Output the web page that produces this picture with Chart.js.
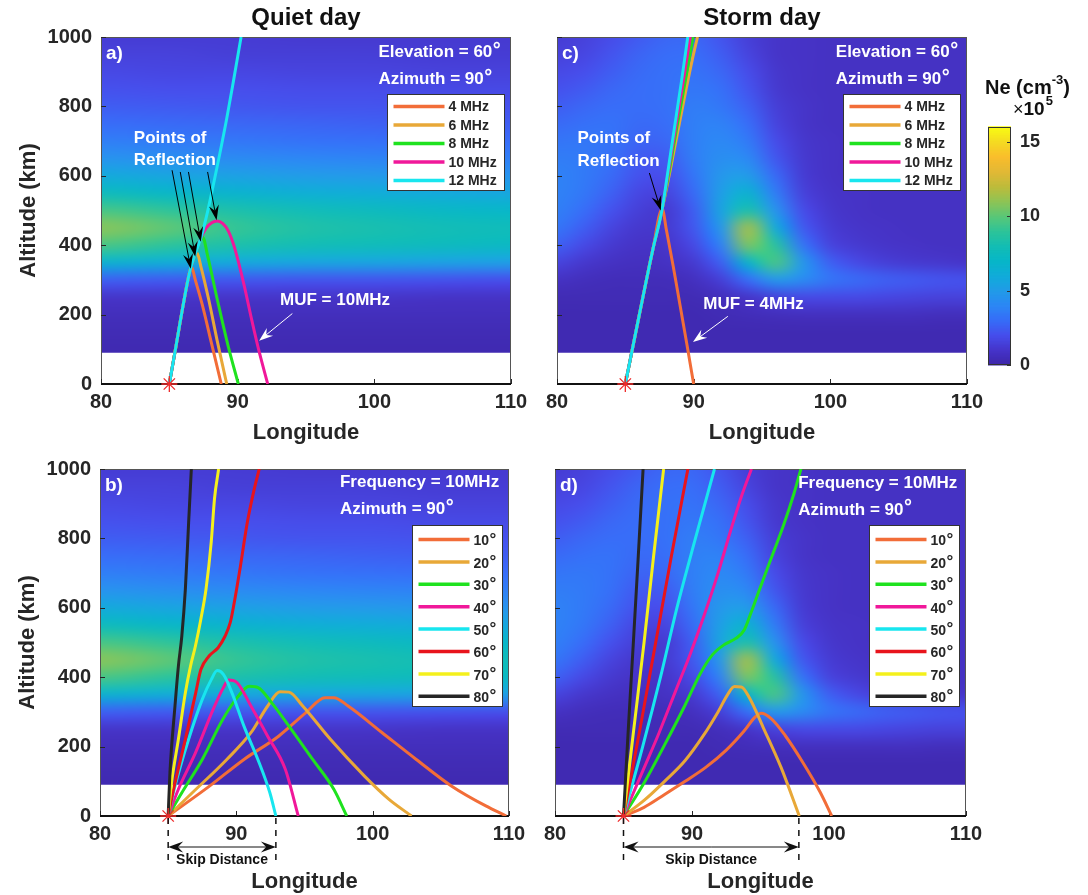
<!DOCTYPE html>
<html>
<head>
<meta charset="utf-8">
<title>Ray tracing: quiet day vs storm day</title>
<script src="https://cdn.jsdelivr.net/npm/chart.js@4.4.1/dist/chart.umd.min.js"></script>
<style>
  html, body { margin: 0; padding: 0; background: #ffffff; }
  #page { position: relative; width: 1088px; height: 895px; overflow: hidden; }
  #page canvas { position: absolute; left: 0; top: 0; }
</style>
</head>
<body>
<div id="page">
  <canvas id="panelA" width="1088" height="895"></canvas>
  <canvas id="panelB" width="1088" height="895"></canvas>
  <canvas id="panelC" width="1088" height="895"></canvas>
  <canvas id="panelD" width="1088" height="895"></canvas>
  <canvas id="colorBar" width="1088" height="895"></canvas>
</div>
<script>
const FONT = '"Liberation Sans", Arial, sans-serif';
const INK = '#262626';
const W = 1088, H = 895;

// --- 1. Data ---
const lonTicks = [80, 90, 100, 110];
const altTicks = [0, 200, 400, 600, 800, 1000];
const neTicks = [0, 5, 10, 15];
const neMax = 16;
const txSite = [85, 0];

const freqNames = ['4 MHz', '6 MHz', '8 MHz', '10 MHz', '12 MHz'];
const elevNames = ['10', '20', '30', '40', '50', '60', '70', '80'];
const freqColors = ['#f26d38', '#e8a838', '#1fe21f', '#f0189a', '#18e6ef'];
const elevColors = ['#f26d38', '#e8a838', '#1fe21f', '#f0189a', '#18e6ef', '#e8141c', '#f4f01c', '#262626'];

// electron density (x10^5 cm^-3), rows top -> bottom
const gridAlt = [1000, 950, 900, 850, 800, 750, 700, 650, 600, 550, 500, 450, 400, 350, 300, 250, 200, 150, 100];
const quietLon = [80, 85, 90, 95, 100, 105, 110];
const quietNe = [
  [1.3, 1.3, 1.3, 1.2, 1.2, 1.2, 1.2],
  [1.5, 1.5, 1.4, 1.4, 1.4, 1.3, 1.3],
  [1.8, 1.7, 1.7, 1.6, 1.6, 1.5, 1.5],
  [2.1, 2.0, 2.0, 1.9, 1.9, 1.8, 1.8],
  [2.5, 2.4, 2.3, 2.2, 2.2, 2.1, 2.1],
  [3.0, 2.9, 2.8, 2.7, 2.6, 2.5, 2.5],
  [3.7, 3.5, 3.4, 3.2, 3.1, 3.0, 3.0],
  [4.6, 4.4, 4.2, 4.0, 3.9, 3.8, 3.7],
  [5.9, 5.6, 5.3, 5.0, 4.9, 4.7, 4.6],
  [7.6, 7.1, 6.7, 6.3, 6.1, 5.9, 5.7],
  [9.6, 9.0, 8.3, 7.8, 7.5, 7.2, 7.0],
  [10.9, 10.1, 9.1, 8.5, 8.2, 7.9, 7.7],
  [9.6, 8.9, 8.3, 7.9, 7.7, 7.5, 7.3],
  [6.6, 6.1, 5.8, 5.6, 5.5, 5.3, 5.2],
  [2.6, 2.4, 2.3, 2.2, 2.2, 2.1, 2.0],
  [1.0, 1.0, 1.0, 1.0, 1.0, 0.9, 0.9],
  [0.6, 0.6, 0.6, 0.6, 0.6, 0.6, 0.6],
  [0.4, 0.4, 0.4, 0.4, 0.4, 0.4, 0.4],
  [0.3, 0.3, 0.3, 0.3, 0.3, 0.3, 0.3]
];
const stormLon = [80, 82, 84, 86, 88, 90, 92, 94, 96, 98, 100, 102, 104, 106, 108, 110];
const stormNe = [
  [1.3, 1.5, 1.9, 2.4, 2.8, 2.8, 2.2, 1.4, 1.0, 0.9, 0.8, 0.8, 0.8, 0.8, 0.8, 0.8],
  [1.5, 1.7, 2.2, 2.7, 3.0, 3.0, 2.5, 1.6, 1.0, 0.9, 0.8, 0.8, 0.8, 0.8, 0.8, 0.8],
  [1.8, 2.0, 2.5, 2.9, 3.1, 3.2, 2.8, 1.9, 1.1, 0.9, 0.8, 0.8, 0.8, 0.8, 0.8, 0.8],
  [2.1, 2.4, 2.8, 3.0, 3.1, 3.4, 3.1, 2.2, 1.2, 0.9, 0.8, 0.8, 0.8, 0.8, 0.8, 0.8],
  [2.5, 2.8, 3.0, 3.0, 3.1, 3.6, 3.4, 2.6, 1.4, 1.0, 0.8, 0.8, 0.8, 0.8, 0.8, 0.8],
  [2.9, 3.1, 3.2, 2.9, 3.0, 3.7, 3.8, 3.0, 1.6, 1.0, 0.8, 0.8, 0.8, 0.8, 0.8, 0.8],
  [3.3, 3.4, 3.2, 2.7, 2.8, 3.7, 4.1, 3.5, 1.9, 1.1, 0.9, 0.8, 0.8, 0.8, 0.8, 0.8],
  [3.6, 3.5, 3.1, 2.4, 2.4, 3.6, 4.4, 4.1, 2.3, 1.2, 0.9, 0.8, 0.8, 0.8, 0.8, 0.8],
  [3.8, 3.5, 2.9, 2.1, 2.0, 3.3, 4.8, 5.0, 2.9, 1.3, 0.9, 0.8, 0.8, 0.8, 0.8, 0.8],
  [3.8, 3.4, 2.6, 1.7, 1.6, 2.9, 5.2, 6.6, 3.6, 1.5, 1.0, 0.9, 0.8, 0.8, 0.8, 0.8],
  [3.7, 3.0, 2.1, 1.4, 1.2, 2.5, 5.5, 8.4, 4.6, 1.9, 1.1, 0.9, 0.8, 0.8, 0.8, 0.8],
  [3.3, 2.5, 1.6, 1.1, 1.2, 2.3, 4.8, 11.4, 6.0, 2.4, 1.3, 1.0, 0.9, 0.8, 0.8, 0.8],
  [2.6, 1.8, 1.2, 0.9, 1.0, 1.8, 3.8, 10.6, 8.8, 3.3, 1.6, 1.2, 1.0, 0.9, 0.8, 0.8],
  [1.6, 1.1, 0.8, 0.7, 0.8, 1.2, 2.6, 6.8, 9.6, 4.8, 2.6, 1.8, 1.4, 1.2, 1.1, 1.0],
  [0.8, 0.6, 0.5, 0.5, 0.5, 0.7, 1.4, 3.0, 4.8, 4.2, 3.3, 2.9, 2.6, 2.4, 2.2, 2.1],
  [0.4, 0.4, 0.4, 0.4, 0.4, 0.4, 0.6, 1.0, 1.5, 1.8, 1.8, 1.8, 1.7, 1.6, 1.5, 1.5],
  [0.3, 0.3, 0.3, 0.3, 0.3, 0.3, 0.4, 0.5, 0.6, 0.7, 0.7, 0.7, 0.7, 0.7, 0.6, 0.6],
  [0.3, 0.3, 0.3, 0.3, 0.3, 0.3, 0.3, 0.3, 0.3, 0.3, 0.3, 0.3, 0.3, 0.3, 0.3, 0.3],
  [0.3, 0.3, 0.3, 0.3, 0.3, 0.3, 0.3, 0.3, 0.3, 0.3, 0.3, 0.3, 0.3, 0.3, 0.3, 0.3]
];

// ray paths [longitude, altitude km]
// a) quiet day, elevation 60
const rayA4  = [[85, 0], [85.5, 112], [86, 225], [86.5, 325], [86.62, 338], [86.9, 300], [87.4, 230], [88.1, 115], [88.8, 0]];
const rayA6  = [[85, 0], [85.5, 112], [86, 225], [86.5, 325], [86.9, 372], [87.02, 378], [87.3, 340], [87.9, 240], [88.5, 125], [89.2, 0]];
const rayA8  = [[85, 0], [85.5, 112], [86, 225], [86.5, 325], [86.9, 375], [87.3, 418], [87.45, 422], [87.8, 370], [88.5, 245], [89.3, 110], [90.05, 0]];
const rayA10 = [[85, 0], [85.5, 112], [86, 225], [86.5, 325], [86.9, 375], [87.3, 420], [87.7, 450], [88.1, 465], [88.5, 470], [88.9, 463], [89.3, 442], [89.7, 402], [90.1, 345], [90.5, 280], [91.0, 190], [91.5, 105], [92.2, 0]];
const rayA12 = [[85, 0], [85.5, 112], [86, 225], [86.5, 325], [86.9, 375], [87.3, 420], [87.7, 480], [88.2, 570], [88.7, 665], [89.2, 765], [89.7, 875], [90.25, 1000]];
// c) storm day, elevation 60
const rayC4  = [[85, 0], [86, 195], [87, 385], [87.7, 505], [88.0, 445], [88.5, 340], [89.0, 228], [89.5, 115], [90.0, 0]];
const rayC6  = [[85, 0], [86, 195], [87, 385], [87.7, 505], [88.25, 610], [88.85, 730], [89.45, 850], [89.9, 935], [90.28, 1000]];
const rayC8  = [[85, 0], [86, 195], [87, 385], [87.7, 505], [88.15, 600], [88.75, 735], [89.35, 865], [89.95, 1000]];
const rayC10 = [[85, 0], [86, 195], [87, 385], [87.7, 505], [88.1, 600], [88.7, 745], [89.25, 875], [89.75, 1000]];
const rayC12 = [[85, 0], [86, 195], [87, 385], [87.7, 505], [88.05, 595], [88.6, 740], [89.1, 870], [89.57, 1000]];
// b) quiet day, 10 MHz
const rayB10 = [[85, 0], [88.03, 86], [90.56, 163], [93.1, 230], [95.1, 298], [96.5, 341], [97.15, 341], [98.2, 317], [100.7, 240], [103.2, 163], [105.8, 86], [108.3, 29], [109.8, 0]];
const rayB20 = [[85, 0], [86.77, 67], [89.3, 163], [91.07, 240], [92.3, 317], [93.2, 358], [93.86, 357], [94.87, 317], [96.9, 221], [99.4, 115], [101.2, 48], [102.85, 0]];
const rayB30 = [[85, 0], [86.0, 67], [87.5, 163], [89.0, 278], [90.06, 341], [90.95, 374], [91.6, 370], [92.6, 326], [93.86, 259], [95.6, 163], [97.15, 77], [98.1, 0]];
const rayB40 = [[85, 0], [85.75, 77], [87.0, 182], [88.3, 307], [89.05, 370], [89.43, 392], [90.06, 384], [91.07, 317], [92.3, 230], [93.6, 134], [94.54, 0]];
const rayB50 = [[85, 0], [85.5, 86], [86.5, 221], [87.5, 336], [88.16, 393], [88.6, 419], [89.05, 408], [89.68, 355], [90.56, 259], [91.58, 163], [92.46, 67], [92.9, 0]];
const rayB60 = [[85, 0], [85.4, 77], [86.26, 221], [87.02, 355], [87.4, 422], [88.0, 461], [88.66, 485], [89.17, 518], [89.55, 557], [89.8, 605], [90.3, 720], [90.8, 845], [91.3, 940], [91.68, 1000]];
const rayB70 = [[85, 0], [85.25, 96], [85.75, 221], [86.26, 355], [86.64, 432], [87.0, 490], [87.4, 568], [87.78, 655], [88.16, 790], [88.4, 915], [88.7, 1000]];
const rayB80 = [[85, 0], [85.13, 125], [85.5, 317], [85.75, 432], [86.0, 518], [86.26, 653], [86.5, 845], [86.7, 1000]];
// d) storm day, 10 MHz
const rayD10 = [[85, 0], [86.5, 25], [88, 62], [89.5, 100], [91, 140], [92.5, 190], [93.8, 245], [94.6, 285], [95.05, 296], [95.8, 280], [96.8, 232], [98.08, 155], [99.35, 69], [100.2, 0]];
const rayD20 = [[85, 0], [86.5, 45], [88, 100], [89.5, 160], [90.8, 230], [91.9, 300], [92.6, 350], [93.1, 373], [93.6, 372], [94.2, 340], [95.2, 255], [96.5, 140], [97.83, 0]];
const rayD30 = [[85, 0], [86.5, 95], [88, 205], [89.5, 320], [90.6, 410], [91.5, 465], [92.4, 495], [93.2, 512], [93.8, 535], [94.3, 585], [94.9, 650], [95.8, 745], [96.7, 840], [97.45, 930], [97.95, 1000]];
const rayD40 = [[85, 0], [86.3, 120], [87.6, 240], [88.8, 360], [89.9, 470], [90.9, 580], [91.9, 700], [92.8, 820], [93.6, 920], [94.34, 1000]];
const rayD50 = [[85, 0], [86.4, 200], [87.7, 400], [88.9, 600], [90.25, 800], [91.64, 1000]];
const rayD60 = [[85, 0], [86.2, 250], [87.35, 500], [88.5, 750], [89.7, 1000]];
const rayD70 = [[85, 0], [85.75, 250], [86.5, 500], [87.2, 750], [87.93, 1000]];
const rayD80 = [[85, 0], [85.35, 250], [85.72, 500], [86.08, 750], [86.43, 1000]];

// --- 2. Colour map (parula-like) ---
const cmapStops = [
  [0.000, 62, 38, 168], [0.060, 70, 52, 200], [0.125, 71, 78, 236], [0.190, 55, 110, 248],
  [0.250, 45, 135, 245], [0.310, 35, 155, 233], [0.375, 18, 172, 218], [0.440, 8, 183, 200],
  [0.500, 20, 190, 180], [0.560, 45, 196, 155], [0.625, 90, 200, 120], [0.690, 145, 196, 85],
  [0.750, 190, 188, 60], [0.810, 225, 185, 55], [0.875, 250, 190, 45], [0.940, 245, 220, 35],
  [1.000, 249, 251, 20]
];
function parula(t) {
  t = Math.max(0, Math.min(1, t));
  for (let i = 1; i < cmapStops.length; i++) {
    const a = cmapStops[i - 1], b = cmapStops[i];
    if (t <= b[0]) {
      const f = (t - a[0]) / (b[0] - a[0]);
      return [a[1] + f * (b[1] - a[1]), a[2] + f * (b[2] - a[2]), a[3] + f * (b[3] - a[3])];
    }
  }
  return cmapStops[cmapStops.length - 1].slice(1);
}

// --- 3. Drawing helpers ---
function text(ctx, s, x, y, size, color, align) {
  ctx.font = `bold ${size}px ${FONT}`;
  ctx.fillStyle = color;
  ctx.textAlign = align || 'left';
  ctx.textBaseline = 'middle';
  ctx.fillText(s, x, y);
}
function textDeg(ctx, s, x, y, size, color) {
  ctx.font = `bold ${size}px ${FONT}`;
  ctx.fillStyle = color;
  ctx.textAlign = 'left';
  ctx.textBaseline = 'middle';
  ctx.fillText(s, x, y);
  const w = ctx.measureText(s).width;
  ctx.font = `bold ${Math.round(size * 1.2)}px ${FONT}`;
  ctx.fillText('°', x + w + 0.5, y - size * 0.12);
}
function arrow(ctx, x1, y1, x2, y2, color, len, wid, lw) {
  const a = Math.atan2(y2 - y1, x2 - x1);
  const ux = Math.cos(a), uy = Math.sin(a);
  const bx = x2 - ux * len, by = y2 - uy * len;
  ctx.strokeStyle = color;
  ctx.lineWidth = lw;
  ctx.beginPath();
  ctx.moveTo(x1, y1);
  ctx.lineTo(x2 - ux * len * 0.6, y2 - uy * len * 0.6);
  ctx.stroke();
  ctx.fillStyle = color;
  ctx.beginPath();
  ctx.moveTo(x2, y2);
  ctx.lineTo(bx - uy * wid / 2, by + ux * wid / 2);
  ctx.lineTo(x2 - ux * len * 0.65, y2 - uy * len * 0.65);
  ctx.lineTo(bx + uy * wid / 2, by - ux * wid / 2);
  ctx.closePath();
  ctx.fill();
}

// --- 4. Plugins ---
const heatPlugin = {
  id: 'heat',
  beforeDatasetsDraw(chart, args, o) {
    if (!o || !o.ne) return;
    const { ctx, chartArea: ca } = chart;
    const xs = chart.scales.x, ys = chart.scales.y;
    const nx = o.lon.length, ny = o.alt.length;
    const off = document.createElement('canvas');
    off.width = nx + 2;
    off.height = ny + 2;
    const octx = off.getContext('2d');
    const img = octx.createImageData(nx + 2, ny + 2);
    for (let j = 0; j < ny + 2; j++) {
      const row = o.ne[Math.min(ny - 1, Math.max(0, j - 1))];
      for (let i = 0; i < nx + 2; i++) {
        const c = parula(row[Math.min(nx - 1, Math.max(0, i - 1))] / neMax);
        const k = (j * (nx + 2) + i) * 4;
        img.data[k] = c[0]; img.data[k + 1] = c[1]; img.data[k + 2] = c[2]; img.data[k + 3] = 255;
      }
    }
    octx.putImageData(img, 0, 0);
    const dLon = o.lon[1] - o.lon[0], dAlt = o.alt[0] - o.alt[1];
    const x0 = xs.getPixelForValue(o.lon[0] - 1.5 * dLon);
    const x1 = xs.getPixelForValue(o.lon[nx - 1] + 1.5 * dLon);
    const y0 = ys.getPixelForValue(o.alt[0] + 1.5 * dAlt);
    const y1 = ys.getPixelForValue(o.alt[ny - 1] - 1.5 * dAlt);
    const top = ys.getPixelForValue(1000), floor = ys.getPixelForValue(o.floor);
    ctx.save();
    ctx.beginPath();
    ctx.rect(ca.left, top, ca.right - ca.left, floor - top);
    ctx.clip();
    ctx.imageSmoothingEnabled = true;
    ctx.imageSmoothingQuality = 'high';
    ctx.drawImage(off, x0, y0, x1 - x0, y1 - y0);
    ctx.restore();
  }
};

const decoPlugin = {
  id: 'deco',
  beforeDatasetsDraw(chart) {
    // axes box with inward ticks
    const { ctx, chartArea: ca } = chart;
    const xs = chart.scales.x, ys = chart.scales.y;
    ctx.save();
    ctx.strokeStyle = '#555';
    ctx.lineWidth = 1;
    ctx.strokeRect(ca.left + 0.5, ca.top + 0.5, ca.right - ca.left - 1, ca.bottom - ca.top - 1);
    ctx.strokeStyle = INK;
    lonTicks.forEach(v => {
      const px = Math.round(xs.getPixelForValue(v)) + 0.5;
      ctx.beginPath(); ctx.moveTo(px, ca.bottom); ctx.lineTo(px, ca.bottom - 5); ctx.stroke();
    });
    altTicks.forEach(v => {
      const py = Math.round(ys.getPixelForValue(v)) + 0.5;
      ctx.beginPath(); ctx.moveTo(ca.left, py); ctx.lineTo(ca.left + 5, py); ctx.stroke();
    });
    ctx.strokeStyle = '#111';
    ctx.lineWidth = 2;
    ctx.beginPath(); ctx.moveTo(ca.left, ca.bottom); ctx.lineTo(ca.right, ca.bottom); ctx.stroke();
    ctx.restore();
  },
  afterDatasetsDraw(chart, args, o) {
    const { ctx, chartArea: ca } = chart;
    const xs = chart.scales.x, ys = chart.scales.y;
    const px = v => xs.getPixelForValue(v), py = v => ys.getPixelForValue(v);
    ctx.save();
    if (o.title) text(ctx, o.title, (ca.left + ca.right) / 2, 18, 24, '#111', 'center');
    text(ctx, o.letter, ca.left + 5, ca.top + 17, 19, '#ffffff');
    o.info.forEach(r => {
      if (r[2]) textDeg(ctx, r[0], px(o.infoLon), py(r[1]), 17, '#ffffff');
      else text(ctx, r[0], px(o.infoLon), py(r[1]), 17, '#ffffff');
    });
    (o.texts || []).forEach(t => text(ctx, t[0], px(t[1]), py(t[2]), 17, t[3]));
    (o.arrows || []).forEach(a => arrow(ctx, px(a[0]), py(a[1]), px(a[2]), py(a[3]), a[4], a[5], a[6], a[7]));

    // legend box
    const L = o.legend;
    const lx = Math.round(px(L.lon)) + 0.5, ly = Math.round(py(L.alt)) + 0.5;
    ctx.fillStyle = '#ffffff';
    ctx.fillRect(lx, ly, L.w, L.h);
    ctx.strokeStyle = '#333';
    ctx.lineWidth = 1;
    ctx.strokeRect(lx, ly, L.w, L.h);
    L.names.forEach((name, i) => {
      const cy = ly + L.first + i * L.step;
      ctx.strokeStyle = L.colors[i];
      ctx.lineWidth = 3.5;
      ctx.beginPath(); ctx.moveTo(lx + L.x0, cy); ctx.lineTo(lx + L.x1, cy); ctx.stroke();
      if (L.deg) textDeg(ctx, name, lx + L.tx, cy + 2, L.size, INK);
      else text(ctx, name, lx + L.tx, cy + 1, L.size, INK);
    });

    // skip distance below the axis
    if (o.skip) {
      const xa = px(o.skip[0]), xb = px(o.skip[1]);
      ctx.strokeStyle = '#111';
      ctx.lineWidth = 1.5;
      ctx.setLineDash([6, 6]);
      [xa, xb].forEach(x => { ctx.beginPath(); ctx.moveTo(x, ca.bottom + 2); ctx.lineTo(x, ca.bottom + 47); ctx.stroke(); });
      ctx.setLineDash([]);
      const ay = ca.bottom + 31;
      const mid = (xa + xb) / 2;
      arrow(ctx, mid, ay, xa, ay, '#111', 15, 11, 1);
      arrow(ctx, mid, ay, xb, ay, '#111', 15, 11, 1);
      text(ctx, 'Skip Distance', mid, ca.bottom + 44, 14, '#111', 'center');
    }
    ctx.restore();
  }
};

// --- 5. Panels ---
function makePanel(canvasId, box, rays, names, colors, heat, deco) {
  const datasets = rays.map((pts, i) => ({
    label: names[i],
    data: pts.map(p => ({ x: p[0], y: p[1] })),
    borderColor: colors[i],
    borderWidth: 3,
    pointRadius: 0,
    fill: false,
    cubicInterpolationMode: 'monotone',
    order: -i
  }));
  datasets.push({
    label: 'Transmitter',
    data: [{ x: txSite[0], y: txSite[1] }],
    showLine: false,
    pointStyle: 'star',
    pointRadius: 8,
    borderColor: '#ee2a2a',
    borderWidth: 1.3,
    clip: false,
    order: -100
  });
  const tickFont = { family: FONT, size: 20, weight: 'bold' };
  const titleFont = { family: FONT, size: 22, weight: 'bold' };
  return new Chart(document.getElementById(canvasId), {
    type: 'line',
    data: { datasets },
    options: {
      responsive: false,
      animation: false,
      devicePixelRatio: 1,
      layout: {
        autoPadding: false,
        padding: { left: box.left - box.yw, right: W - box.right, top: box.top, bottom: H - box.bottom - box.xh }
      },
      plugins: { legend: { display: false }, tooltip: { enabled: false }, heat, deco },
      scales: {
        x: {
          type: 'linear', min: 80, max: 110,
          afterBuildTicks: s => { s.ticks = lonTicks.map(v => ({ value: v })); },
          afterFit: s => { s.height = box.xh; },
          grid: { display: false, drawTicks: false },
          border: { display: false },
          ticks: { color: INK, font: tickFont, padding: 6, maxRotation: 0, autoSkip: false, callback: v => String(v) },
          title: { display: true, text: 'Longitude', color: INK, font: titleFont, padding: 0 }
        },
        y: {
          type: 'linear', min: 0, max: 1000,
          display: box.yw > 0,
          afterBuildTicks: s => { s.ticks = altTicks.map(v => ({ value: v })); },
          afterFit: s => { s.width = box.yw; },
          grid: { display: false, drawTicks: false },
          border: { display: false },
          ticks: { color: INK, font: tickFont, padding: 9, autoSkip: false, callback: v => String(v) },
          title: { display: true, text: 'Altitude (km)', color: INK, font: titleFont, padding: { top: 6, bottom: 0 } }
        }
      }
    },
    plugins: [heatPlugin, decoPlugin]
  });
}

const legendFreq = { lon: 100.9, alt: 835, w: 117, h: 96, first: 12, step: 18.5, x0: 6, x1: 57, tx: 61, size: 14, names: freqNames, colors: freqColors, deg: false };
const legendElev = { lon: 102.9, alt: 840, w: 90, h: 181, first: 14, step: 22.4, x0: 6, x1: 57, tx: 61, size: 14, names: elevNames, colors: elevColors, deg: true };

makePanel('panelA', { left: 101, right: 511, top: 37, bottom: 384, yw: 91, xh: 62 },
  [rayA4, rayA6, rayA8, rayA10, rayA12], freqNames, freqColors,
  { lon: quietLon, alt: gridAlt, ne: quietNe, floor: 90 },
  {
    title: 'Quiet day', letter: 'a)', infoLon: 100.3,
    info: [['Elevation = 60', 955, true], ['Azimuth = 90', 877, true]],
    texts: [['Points of', 82.4, 708, '#ffffff'], ['Reflection', 82.4, 645, '#ffffff'], ['MUF = 10MHz', 93.1, 240, '#ffffff']],
    arrows: [
      [85.2, 616, 86.57, 332, '#000', 15, 10, 1],
      [85.8, 611, 86.9, 367, '#000', 15, 10, 1],
      [86.4, 611, 87.3, 410, '#000', 15, 10, 1],
      [87.8, 611, 88.46, 472, '#000', 15, 10, 1],
      [94.0, 203, 91.57, 125, '#ffffff', 14, 10, 1]
    ],
    legend: legendFreq
  });

makePanel('panelC', { left: 557, right: 967, top: 37, bottom: 384, yw: 0, xh: 62 },
  [rayC4, rayC6, rayC8, rayC10, rayC12], freqNames, freqColors,
  { lon: stormLon, alt: gridAlt, ne: stormNe, floor: 90 },
  {
    title: 'Storm day', letter: 'c)', infoLon: 100.4,
    info: [['Elevation = 60', 955, true], ['Azimuth = 90', 877, true]],
    texts: [['Points of', 81.5, 707, '#ffffff'], ['Reflection', 81.5, 643, '#ffffff'], ['MUF = 4MHz', 90.7, 229, '#ffffff']],
    arrows: [
      [86.76, 608, 87.6, 500, '#000', 15, 10, 1],
      [92.5, 195, 89.95, 121, '#ffffff', 14, 10, 1]
    ],
    legend: legendFreq
  });

makePanel('panelB', { left: 100, right: 509, top: 469, bottom: 816, yw: 91, xh: 79 },
  [rayB10, rayB20, rayB30, rayB40, rayB50, rayB60, rayB70, rayB80], elevNames, elevColors,
  { lon: quietLon, alt: gridAlt, ne: quietNe, floor: 90 },
  {
    letter: 'b)', infoLon: 97.6,
    info: [['Frequency = 10MHz', 961, false], ['Azimuth = 90', 884, true]],
    legend: legendElev,
    skip: [85, 92.9]
  });

makePanel('panelD', { left: 555, right: 966, top: 469, bottom: 816, yw: 0, xh: 79 },
  [rayD10, rayD20, rayD30, rayD40, rayD50, rayD60, rayD70, rayD80], elevNames, elevColors,
  { lon: stormLon, alt: gridAlt, ne: stormNe, floor: 90 },
  {
    letter: 'd)', infoLon: 97.75,
    info: [['Frequency = 10MHz', 960, false], ['Azimuth = 90', 882, true]],
    legend: legendElev,
    skip: [85, 97.8]
  });

// --- 6. Colour bar ---
const colorBarPlugin = {
  id: 'cbar',
  beforeDraw(chart) {
    const { ctx, chartArea: ca } = chart;
    const ys = chart.scales.y;
    ctx.save();
    const step = 0.04;
    for (let v = 0; v < neMax; v += step) {
      const c = parula((v + step / 2) / neMax);
      const yTop = ys.getPixelForValue(Math.min(neMax, v + step));
      const yBot = ys.getPixelForValue(v);
      ctx.fillStyle = `rgb(${c[0] | 0},${c[1] | 0},${c[2] | 0})`;
      ctx.fillRect(ca.left, yTop - 0.5, ca.right - ca.left, yBot - yTop + 1);
    }
    ctx.strokeStyle = '#333';
    ctx.lineWidth = 1;
    ctx.strokeRect(ca.left + 0.5, ca.top + 0.5, ca.right - ca.left - 1, ca.bottom - ca.top - 1);
    neTicks.forEach(v => {
      const py = Math.round(ys.getPixelForValue(v)) + 0.5;
      ctx.beginPath(); ctx.moveTo(ca.right, py); ctx.lineTo(ca.right - 4, py); ctx.stroke();
    });
    // title: Ne (cm^-3) and x10^5
    ctx.fillStyle = '#111';
    ctx.textBaseline = 'middle';
    ctx.textAlign = 'left';
    ctx.font = `bold 20px ${FONT}`;
    const t1 = 'Ne (cm';
    ctx.fillText(t1, 985, 88);
    const w = ctx.measureText(t1).width;
    ctx.font = `bold 13px ${FONT}`;
    ctx.fillText('-3', 985 + w, 80);
    const w2 = ctx.measureText('-3').width;
    ctx.font = `bold 20px ${FONT}`;
    ctx.fillText(')', 985 + w + w2, 88);
    ctx.font = `18px ${FONT}`;
    ctx.fillText('\u00d7', 1013, 110);
    const wx = ctx.measureText('\u00d7').width;
    ctx.font = `bold 19px ${FONT}`;
    ctx.fillText('10', 1013 + wx, 110);
    const w10 = ctx.measureText('10').width;
    ctx.font = `bold 13px ${FONT}`;
    ctx.fillText('5', 1013 + wx + w10 + 1, 101);
    ctx.restore();
  }
};

new Chart(document.getElementById('colorBar'), {
  type: 'line',
  data: { datasets: [] },
  options: {
    responsive: false,
    animation: false,
    devicePixelRatio: 1,
    layout: { autoPadding: false, padding: { left: 988, right: 0, top: 127, bottom: H - 365 } },
    plugins: { legend: { display: false }, tooltip: { enabled: false } },
    scales: {
      x: { type: 'linear', display: false, min: 0, max: 1 },
      y: {
        type: 'linear', position: 'right', min: 0, max: neMax,
        afterBuildTicks: s => { s.ticks = neTicks.map(v => ({ value: v })); },
        afterFit: s => { s.width = W - 1011; },
        grid: { display: false, drawTicks: false },
        border: { display: false },
        ticks: { color: INK, font: { family: FONT, size: 18, weight: 'bold' }, padding: 9, callback: v => String(v) }
      }
    }
  },
  plugins: [colorBarPlugin]
});
</script>
</body>
</html>
